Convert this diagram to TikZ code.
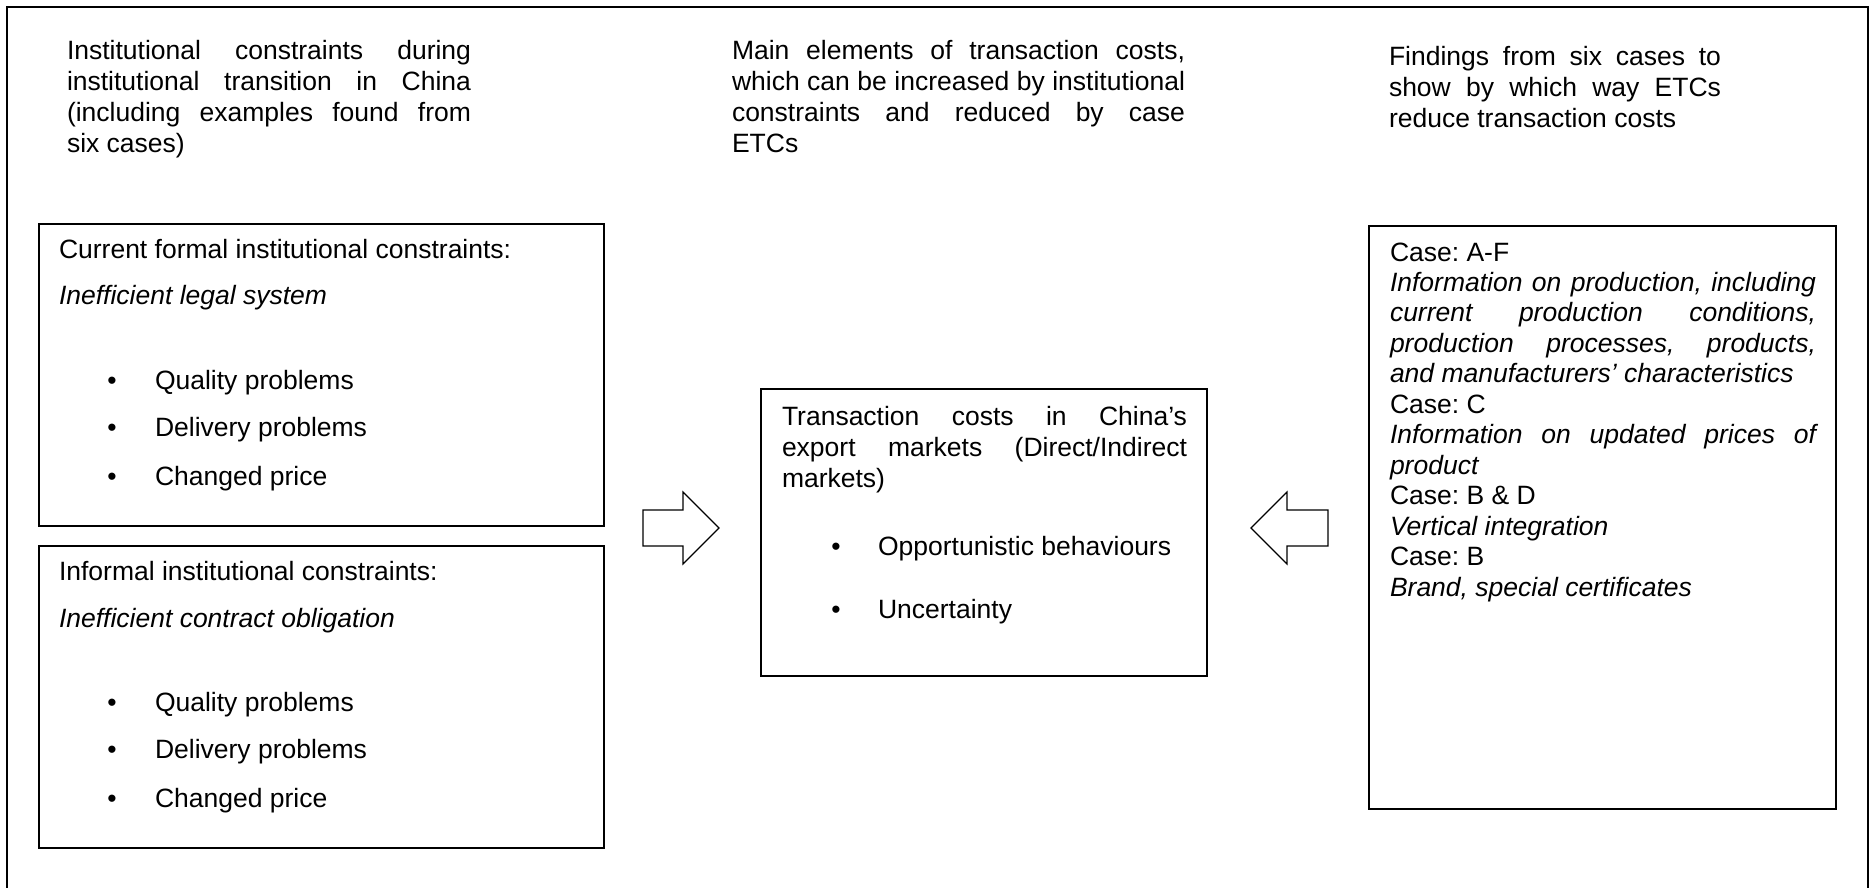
\documentclass[tikz,border=0pt]{standalone}
\usepackage{fontspec}
\setmainfont{Liberation Sans}
\frenchspacing
\begin{document}
\begin{tikzpicture}[x=0.5pt,y=-0.5pt,
  every node/.style={inner sep=0pt, outer sep=0pt,
    font=\fontsize{13.25}{15.5}\selectfont},
  frame/.style={line width=1.1pt},
  panel/.style={draw, line width=0.6pt, rectangle, anchor=north west},
  txt/.style={anchor=base west},
  para/.style={anchor=base west, align=justify},
  bul/.style={anchor=base},
  blockarrow/.style={draw, line width=0.55pt, line join=miter},
]
\useasboundingbox (0,0) rectangle (1870,888);

% outer frame (open at the bottom edge of the page)
\draw[frame] (7,888) -- (7,7) -- (1868,7) -- (1868,888);

% column headings
\node[para, text width=202pt] (head1) at (67,60)
  {Institutional constraints during\linebreak institutional transition in China\linebreak (including examples found from\linebreak six cases)};
\node[para, text width=226.5pt] (head2) at (732,60)
  {Main elements of transaction costs,\linebreak which can be increased by institutional\linebreak constraints and reduced by case\linebreak ETCs};
\node[para, text width=166pt] (head3) at (1389,66)
  {Findings from six cases to\linebreak show by which way ETCs\linebreak reduce transaction costs};

% left column: formal constraints
\node[panel, minimum width=282.5pt, minimum height=151pt] (formal) at (39,224) {};
\node[txt] (formalA) at (59,258) {Current formal institutional constraints:};
\node[txt] (formalB) at (59,304) {\itshape Inefficient legal system};
\node[bul] (fb1) at (112,389) {\textbullet};
\node[txt] (fi1) at (155,389) {Quality problems};
\node[bul] (fb2) at (112,436) {\textbullet};
\node[txt] (fi2) at (155,436) {Delivery problems};
\node[bul] (fb3) at (112,485) {\textbullet};
\node[txt] (fi3) at (155,485) {Changed price};

% left column: informal constraints
\node[panel, minimum width=282.5pt, minimum height=151pt] (informal) at (39,546) {};
\node[txt] (informalA) at (59,580) {Informal institutional constraints:};
\node[txt] (informalB) at (59,627) {\itshape Inefficient contract obligation};
\node[bul] (ib1) at (112,711) {\textbullet};
\node[txt] (ii1) at (155,711) {Quality problems};
\node[bul] (ib2) at (112,758) {\textbullet};
\node[txt] (ii2) at (155,758) {Delivery problems};
\node[bul] (ib3) at (112,807) {\textbullet};
\node[txt] (ii3) at (155,807) {Changed price};

% middle column: transaction costs
\node[panel, minimum width=223pt, minimum height=143.5pt] (costs) at (761,389) {};
\node[para, text width=202.5pt] (costsA) at (782,425)
  {Transaction costs in China’s\linebreak export markets (Direct/Indirect\linebreak markets)};
\node[bul] (cb1) at (836,555) {\textbullet};
\node[txt] (ci1) at (878,555) {Opportunistic behaviours};
\node[bul] (cb2) at (836,618) {\textbullet};
\node[txt] (ci2) at (878,618) {Uncertainty};

% right column: findings
\node[panel, minimum width=233.5pt, minimum height=291.5pt] (cases) at (1369,226) {};
\node[para, text width=213pt] (casesA) at (1390,261)
  {\fontsize{13.25}{15.25}\selectfont
   Case: A-F\par
   {\itshape Information on production, including\linebreak current production conditions,\linebreak production processes, products,\linebreak and manufacturers’ characteristics}\par
   Case: C\par
   {\itshape Information on updated prices of\linebreak product}\par
   Case: B \& D\par
   {\itshape Vertical integration}\par
   Case: B\par
   {\itshape Brand, special certificates}\par};

% block arrows pointing into the middle box
\draw[blockarrow] (643,510) -- (683,510) -- (683,492) -- (719,528)
  -- (683,564) -- (683,546) -- (643,546) -- cycle;
\draw[blockarrow] (1328,510) -- (1287,510) -- (1287,492) -- (1251,528)
  -- (1287,564) -- (1287,546) -- (1328,546) -- cycle;
\end{tikzpicture}
\end{document}
